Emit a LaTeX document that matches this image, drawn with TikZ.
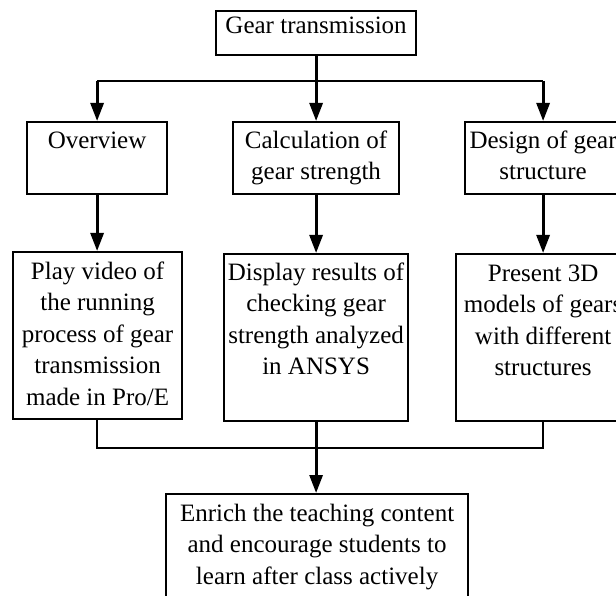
\documentclass[tikz,border=0pt]{standalone}
\usepackage{fontspec}
\setmainfont{Liberation Serif}
\usetikzlibrary{arrows.meta}

% Text block of a flow box: width, height, depth of the first baseline, lines
\newcommand\flowtext[4]{\parbox[t][#2][t]{#1}{\centering\rule{0pt}{#3}#4}}

\tikzset{
  flowbox/.style={draw, line width=2.2pt, inner sep=0pt, anchor=north west,
    font=\fontsize{25}{31.5}\selectfont},
  arr/.style={line width=2.9pt, -{Triangle[length=18pt,width=13pt]}},
  bus/.style={line width=2.2pt},
  thinbus/.style={line width=1.8pt},
}

\begin{document}
\begin{tikzpicture}[x=1pt,y=1pt]
  \useasboundingbox (0,0) rectangle (616,-596);
  \clip (0,0) rectangle (616,-596);

  % root
  \node[flowbox] (top) at (215,-10)
    {\flowtext{200pt}{44pt}{22pt}{Gear transmission}};

  % first level
  \node[flowbox] (overview) at (26,-121)
    {\flowtext{140pt}{72pt}{26pt}{Overview}};
  \node[flowbox] (calc) at (232,-121)
    {\flowtext{166pt}{72pt}{26pt}{Calculation of\\gear strength}};
  \node[flowbox] (design) at (464,-121)
    {\flowtext{156pt}{72pt}{26pt}{Design of gear\\structure}};

  % second level
  \node[flowbox] (play) at (12,-251)
    {\flowtext{169pt}{167pt}{27pt}{Play video of\\the running\\process of gear\\transmission\\made in Pro/E}};
  \node[flowbox] (display) at (223,-253)
    {\flowtext{184pt}{167pt}{26pt}{Display results of\\checking gear\\strength analyzed\\in ANSYS}};
  \node[flowbox] (present) at (455,-253)
    {\flowtext{174pt}{167pt}{27pt}{Present 3D\\models of gears\\with different\\structures}};

  % outcome
  \node[flowbox] (goal) at (165,-493)
    {\flowtext{302pt}{127pt}{27pt}{Enrich the teaching content\\and encourage students to\\learn after class actively}};

  % fork below the root
  \coordinate (fork) at (top.south |- 0,-81);
  \draw[bus] (overview.north |- fork) -- (design.north |- fork);
  \draw[arr] (top) -- (calc);
  \draw[arr] (overview.north |- fork) -- (overview.north);
  \draw[arr] (design.north |- fork) -- (design.north);

  % first level to second level
  \draw[arr] (overview) -- (play.north -| overview);
  \draw[arr] (calc) -- (display.north -| calc);
  \draw[arr] (design) -- (present.north -| design);

  % merge into the outcome
  \coordinate (merge) at (display.south |- 0,-448);
  \draw[thinbus] (play.south -| overview) |- (merge) -| (present.south -| design);
  \draw[arr] (display) -- (goal.north -| display);
\end{tikzpicture}
\end{document}
